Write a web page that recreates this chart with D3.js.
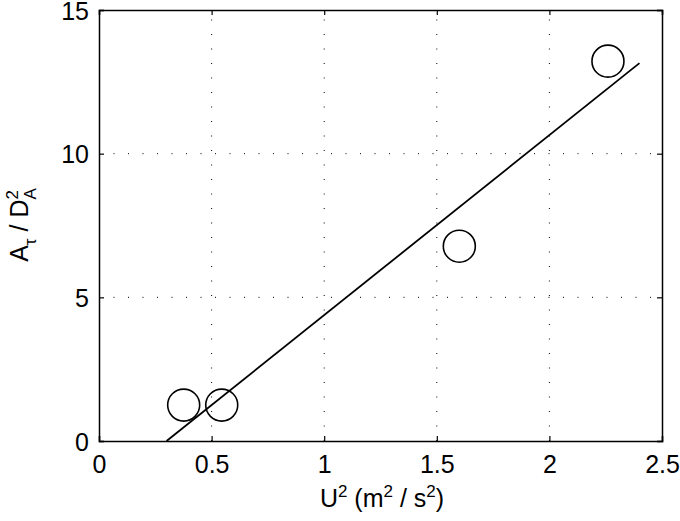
<!DOCTYPE html>
<html><head><meta charset="utf-8">
<script src="https://cdn.jsdelivr.net/npm/d3@7"></script>
<style>body{margin:0;background:#fff}svg{display:block}</style>
</head><body>
<script>
const xTicks = [0, 0.5, 1, 1.5, 2, 2.5];
const yTicks = [0, 5, 10, 15];
const pointsX = [0.376, 0.545, 1.60, 2.26];
const pointsY = [1.25, 1.25, 6.78, 13.22];
const fitX = [0.30, 2.40];
const fitY = [0, 13.15];

const W = 680, H = 521;
const m = {l: 99, r: 18, t: 10, b: 80};
const svg = d3.select("body").append("svg").attr("width", W).attr("height", H);
const x = d3.scaleLinear().domain([0, 2.5]).range([m.l, W - m.r]);
const y = d3.scaleLinear().domain([0, 15]).range([H - m.b, m.t]);
const font = "'Liberation Sans', Arial, Helvetica, sans-serif";
const FS = 25, SS = 17;

// grid
const g = svg.append("g");
g.selectAll(".gx").data(xTicks.slice(1, -1)).enter().append("line")
  .attr("x1", d => x(d)).attr("x2", d => x(d)).attr("y1", y(0)).attr("y2", y(15))
  .attr("stroke", "#000").attr("stroke-width", 1).attr("stroke-dasharray", "1,13.5");
g.selectAll(".gy").data(yTicks.slice(1, -1)).enter().append("line")
  .attr("y1", d => y(d)).attr("y2", d => y(d)).attr("x1", x(0)).attr("x2", x(2.5))
  .attr("stroke", "#000").attr("stroke-width", 1).attr("stroke-dasharray", "1,13.5");

// axes (inner ticks on all sides)
const xa = svg.append("g").attr("transform", `translate(0,${y(0)})`)
  .call(d3.axisBottom(x).tickValues(xTicks).tickSize(-5).tickPadding(14).tickFormat(d3.format("")));
const xt = svg.append("g").attr("transform", `translate(0,${y(15)})`)
  .call(d3.axisTop(x).tickValues(xTicks).tickSize(-5).tickFormat(""));
const ya = svg.append("g").attr("transform", `translate(${x(0)},0)`)
  .call(d3.axisLeft(y).tickValues(yTicks).tickSize(-5).tickPadding(10));
const yr = svg.append("g").attr("transform", `translate(${x(2.5)},0)`)
  .call(d3.axisRight(y).tickValues(yTicks).tickSize(-5).tickFormat(""));
[xa, xt, ya, yr].forEach(a => {
  a.select(".domain").attr("stroke", "#000").attr("stroke-width", 1.5);
  a.selectAll(".tick line").attr("stroke", "#000").attr("stroke-width", 1.2);
  a.selectAll("text").attr("font-family", font).attr("font-size", FS).attr("fill", "#000");
});
xa.selectAll("text").attr("dy", "0.71em");
ya.selectAll("text").attr("dy", "0.36em");

// fit line
svg.append("line")
  .attr("x1", x(fitX[0])).attr("y1", y(fitY[0])).attr("x2", x(fitX[1])).attr("y2", y(fitY[1]))
  .attr("stroke", "#000").attr("stroke-width", 1.8);

// circles
svg.selectAll(".pt").data(pointsX.map((d, i) => [d, pointsY[i]])).enter().append("circle")
  .attr("cx", d => x(d[0])).attr("cy", d => y(d[1])).attr("r", 16)
  .attr("fill", "none").attr("stroke", "#000").attr("stroke-width", 1.6);

// x label
const xl = svg.append("text").attr("x", 382).attr("y", 507).attr("text-anchor", "middle")
  .attr("font-family", font).attr("font-size", FS);
xl.append("tspan").text("U");
xl.append("tspan").attr("font-size", SS).attr("dy", -10).text("2");
xl.append("tspan").attr("dy", 10).text(" (m");
xl.append("tspan").attr("font-size", SS).attr("dy", -10).text("2");
xl.append("tspan").attr("dy", 10).text(" / s");
xl.append("tspan").attr("font-size", SS).attr("dy", -10).text("2");
xl.append("tspan").attr("dy", 10).text(")");

// y label
const yl = svg.append("text").attr("transform", "translate(28,225) rotate(-90)")
  .attr("text-anchor", "middle").attr("font-family", font).attr("font-size", FS);
yl.append("tspan").text("A");
yl.append("tspan").attr("font-size", SS).attr("dy", 8).text("τ");
yl.append("tspan").attr("dy", -8).text(" / D");
yl.append("tspan").attr("font-size", SS).attr("dy", -10).text("2");
yl.append("tspan").attr("font-size", SS).attr("dy", 18).attr("dx", -9.5).text("A");
</script>
</body></html>
